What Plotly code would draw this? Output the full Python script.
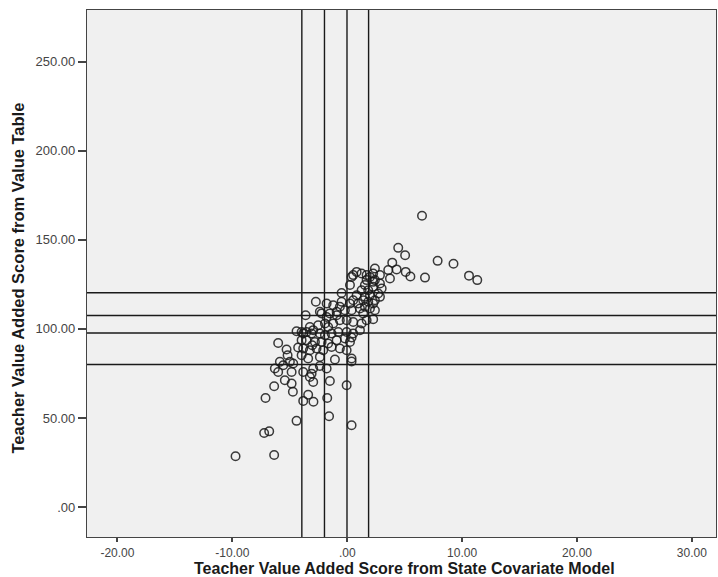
import plotly.graph_objects as go

# Scatter data: (state covariate model score, value table score)
x_state = [
    6.51, 4.44, 5.04, 3.92, 4.30, 5.09, 5.50, 6.77, 7.87, 9.25, 10.60, 11.32,
    3.57, 3.72, 2.41, 2.85, 0.82, 1.25, 0.52, 1.69, 0.38, 2.26, 1.98, 1.69,
    2.41, 2.85, 3.00, 2.26, 1.83, 1.54, 1.25, 1.98, 2.70, 2.85, 1.54, 0.24,
    -0.49, -2.73, 1.39, 1.83, 2.26, 1.54, 1.98, 2.41, 1.39, 2.26, 1.25,
    -1.79, -1.22, -0.49, 0.24, 0.96, -2.23, -1.51, -0.92, -0.20, 0.38, 1.11,
    -3.25, -2.96, -2.53, -1.94, -1.66, -1.22, -0.64, -0.05, 0.52, 1.69,
    -3.83, -3.54, -3.10, -2.38, -1.94, -1.36, -0.78, -0.05, 0.52, 1.11,
    -3.54, -2.81, -2.23, -1.66, -0.92, -0.20, 0.24,
    -3.83, -3.25, -2.67, -2.09, -1.36, -0.64, -0.05,
    -3.40, -2.38, -1.07, 0.38,
    -3.62, -4.41, -3.97, -6.01, -5.28, -3.97, -4.27, -3.05, -5.19, -3.97,
    -5.86, -5.57, -4.99, -4.70, -6.30, -6.01, -4.84, -3.83, -2.96, -2.38,
    -1.79, -3.25, -5.43, -4.84, -2.96, -1.51, -6.36, -0.05, -4.73, -7.11,
    -3.40, -3.83, -2.94, -1.74, -4.41, -1.58, 0.38, -7.23, -6.79, -9.72,
    -6.36, -3.10,
    0.38, 0.82, 0.52, -0.64, -0.92, -1.79, -2.38, 2.26, 2.41, 0.38,
]
y_table = [
    163.5, 145.5, 141.3, 137.2, 133.4, 132.0, 129.4, 128.8, 138.2, 136.6, 129.9, 127.4,
    133.0, 128.3, 133.9, 130.2, 132.0, 131.1, 130.2, 130.2, 129.2, 131.1, 129.2, 127.4,
    127.4, 125.5, 122.7, 123.6, 121.7, 124.6, 121.7, 118.9, 119.9, 118.0, 118.0, 124.6,
    120.2, 115.2, 116.1, 115.2, 114.3, 112.4, 111.5, 110.5, 108.7, 105.4, 103.0,
    114.3, 113.3, 115.2, 114.3, 114.3, 108.7, 108.7, 109.6, 110.5, 110.5, 111.5,
    101.1, 99.3, 102.1, 103.0, 101.1, 103.0, 104.9, 104.9, 103.9, 104.9,
    97.4, 98.3, 97.4, 97.4, 96.5, 97.4, 98.3, 98.3, 97.4, 99.3,
    93.7, 92.7, 92.7, 91.8, 93.7, 94.6, 92.7,
    89.0, 88.0, 89.0, 88.0, 89.9, 89.0, 88.0,
    83.4, 84.3, 82.8, 83.4,
    107.7, 98.7, 98.3, 92.1, 88.4, 93.7, 89.6, 90.8, 85.2, 85.2,
    81.5, 79.6, 81.5, 80.6, 77.8, 75.8, 75.8, 75.8, 77.8, 79.2,
    77.8, 73.0, 71.2, 69.3, 70.2, 70.8, 67.8, 68.4, 64.7, 61.2,
    63.0, 59.6, 59.1, 61.2, 48.4, 51.0, 45.9, 41.6, 42.5, 28.5,
    29.2, 74.9,
    95.2, 118.9, 116.1, 112.4, 107.7, 106.7, 109.6, 126.4, 116.1, 81.7,
]

# Reference lines
x_ref_lines = [-3.95, -1.98, -0.02, 1.86]
y_ref_lines = [120.3, 107.5, 97.7, 80.0]

x_tick_vals = [-20, -10, 0, 10, 20, 30]
x_tick_text = ["-20.00", "-10.00", ".00", "10.00", "20.00", "30.00"]
y_tick_vals = [0, 50, 100, 150, 200, 250]
y_tick_text = [".00", "50.00", "100.00", "150.00", "200.00", "250.00"]

x_range = [-22.65, 32.1]
y_range = [-16.8, 279.0]

x_title = "Teacher Value Added Score from State Covariate Model"
y_title = "Teacher Value Added Score from Value Table"

fig = go.Figure()
fig.add_trace(go.Scatter(
    x=x_state, y=y_table, mode="markers",
    marker=dict(symbol="circle-open", size=8.5, color="rgba(25,25,25,0.85)",
                line=dict(width=1.5)),
    showlegend=False, hoverinfo="x+y",
))

shapes = []
for xv in x_ref_lines:
    shapes.append(dict(type="line", xref="x", yref="paper", x0=xv, x1=xv, y0=0, y1=1,
                       line=dict(color="#1a1a1a", width=1.4), layer="below"))
for yv in y_ref_lines:
    shapes.append(dict(type="line", xref="paper", yref="y", x0=0, x1=1, y0=yv, y1=yv,
                       line=dict(color="#1a1a1a", width=1.4), layer="below"))

font_family = "Liberation Sans, Arial, sans-serif"
axis_common = dict(
    showgrid=False, zeroline=False, automargin=False,
    showline=True, mirror=True, linecolor="#444444", linewidth=1.2,
    ticks="outside", tickcolor="#444444", tickwidth=1.5,
)
fig.update_layout(
    width=718, height=577,
    margin=dict(l=87, r=2, t=10, b=40, autoexpand=False),
    paper_bgcolor="white",
    plot_bgcolor="#f0f0f0",
    shapes=shapes,
    font=dict(family=font_family, size=12, color="#444444"),
    xaxis=dict(range=x_range, tickvals=x_tick_vals, ticktext=x_tick_text,
               ticklen=4, tickfont=dict(size=12, color="#444444"), **axis_common),
    yaxis=dict(range=y_range, tickvals=y_tick_vals, ticktext=y_tick_text,
               ticklen=8, tickfont=dict(size=13, color="#444444"), **axis_common),
    annotations=[
        dict(text="<b>" + x_title + "</b>", xref="paper", yref="paper",
             x=0.505, y=-0.0605, xanchor="center", yanchor="middle", showarrow=False,
             font=dict(size=16, color="#1a1a1a")),
        dict(text="<b>" + y_title + "</b>", xref="paper", yref="paper",
             x=-0.11, y=0.492, xanchor="center", yanchor="middle", showarrow=False,
             textangle=-90, font=dict(size=16.5, color="#1a1a1a")),
    ],
)

fig.write_html("out.html", config={"displayModeBar": False})

# Remove the default page margin so the figure fills the window exactly
with open("out.html", "r", encoding="utf-8") as f:
    html = f.read()
html = html.replace("<head>", "<head><style>html,body{margin:0;padding:0;overflow:hidden;}</style>", 1)
with open("out.html", "w", encoding="utf-8") as f:
    f.write(html)
